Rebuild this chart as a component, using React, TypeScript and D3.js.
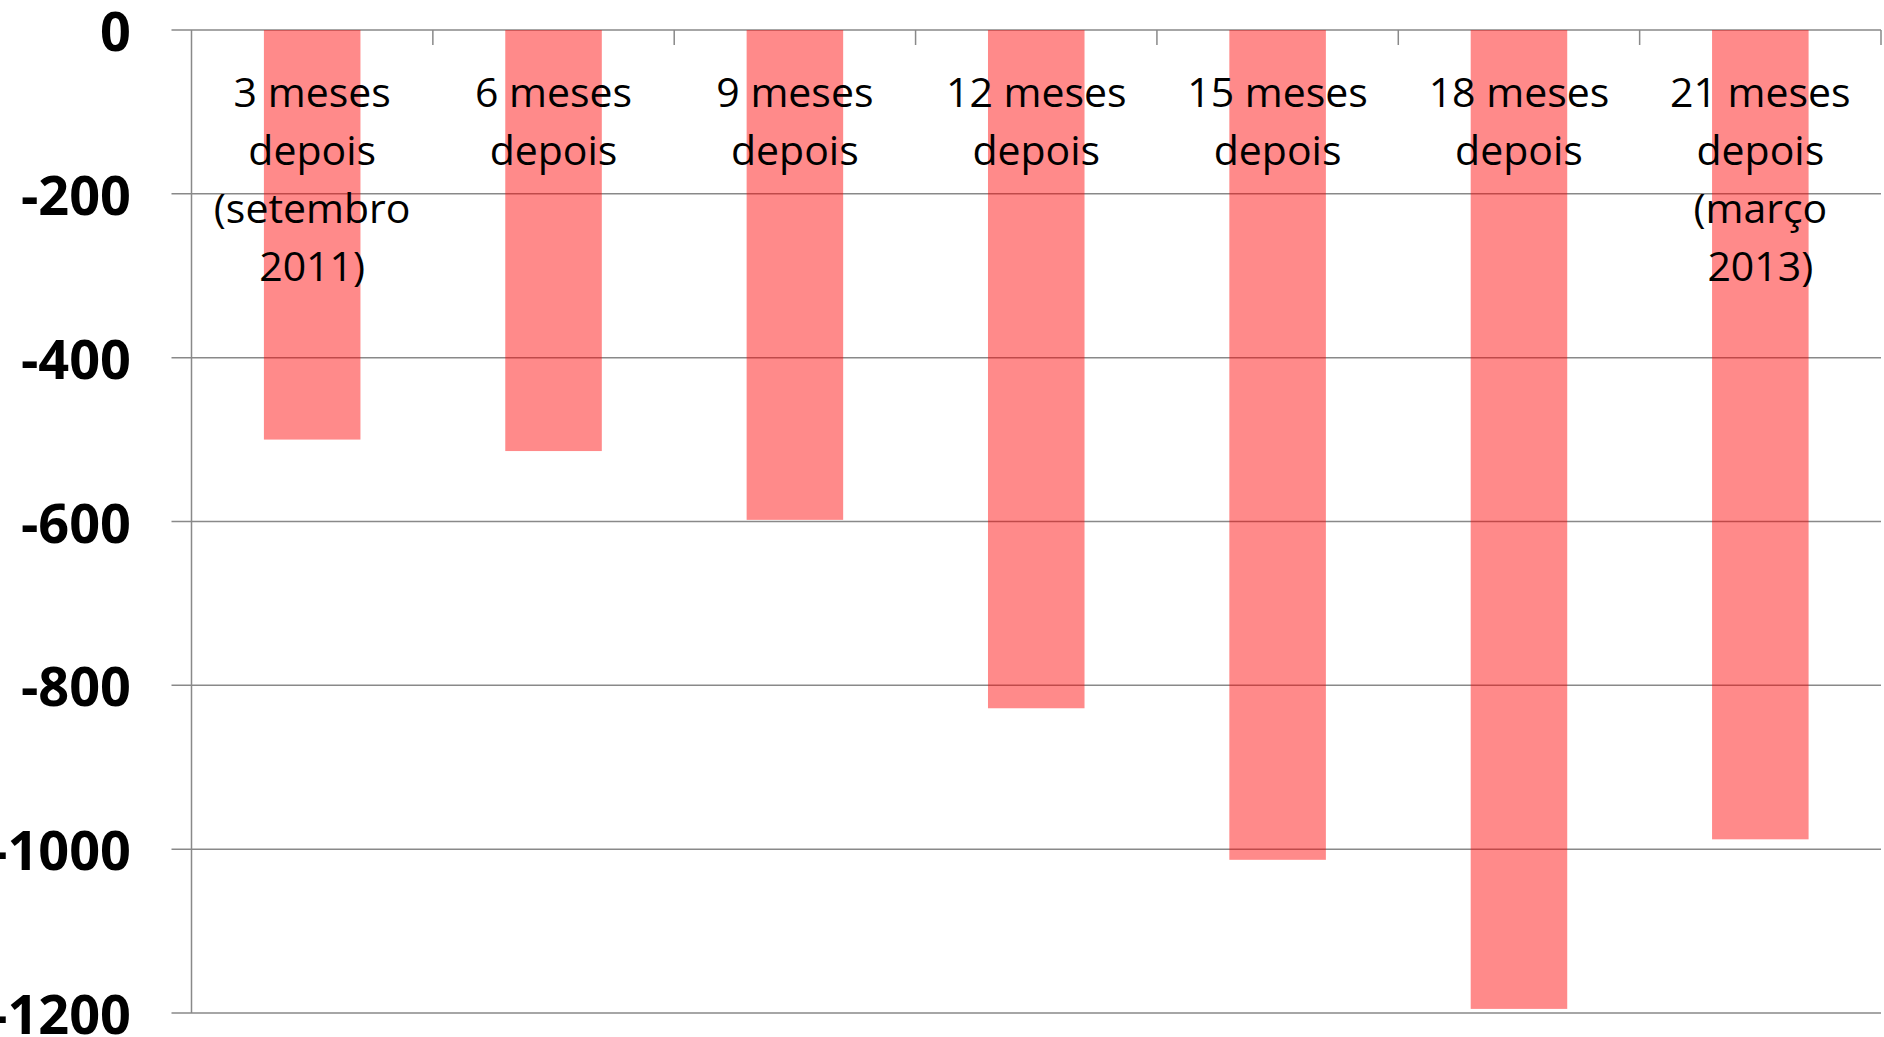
import React from "react";
import * as d3 from "d3";

// categories (multi-line labels) and values
const categories = ["3m", "6m", "9m", "12m", "15m", "18m", "21m"];
const labelLines = [
  ["3 meses", "depois", "(setembro", "2011)"],
  ["6 meses", "depois"],
  ["9 meses", "depois"],
  ["12 meses", "depois"],
  ["15 meses", "depois"],
  ["18 meses", "depois"],
  ["21 meses", "depois", "(março", "2013)"],
];
const values = [-500, -514, -598, -828, -1013, -1195, -988];
const yTicks = [0, -200, -400, -600, -800, -1000, -1200];

const W = 1884;
const H = 1037;
const margin = { top: 30, right: 3, bottom: 24, left: 191.5 };

export default function App() {
  const x = d3
    .scaleBand<string>()
    .domain(categories)
    .range([margin.left, W - margin.right])
    .paddingInner(0.6)
    .paddingOuter(0.3);

  const y = d3
    .scaleLinear()
    .domain([-1200, 0])
    .range([H - margin.bottom, margin.top]);

  const step = x.step();
  const grid = "#898989";

  return (
    <svg
      width={W}
      height={H}
      style={{ position: "absolute", left: 0, top: 0, background: "#fff" }}
    >
      {/* horizontal gridlines + outside ticks */}
      {yTicks.map((t) => (
        <line
          key={"g" + t}
          x1={margin.left - 20}
          x2={W - margin.right}
          y1={y(t)}
          y2={y(t)}
          stroke={grid}
          strokeWidth={1.5}
        />
      ))}
      {/* value axis */}
      <line
        x1={margin.left}
        x2={margin.left}
        y1={y(0)}
        y2={y(-1200)}
        stroke={grid}
        strokeWidth={1.5}
      />
      {/* category ticks on the zero line */}
      {categories.map((c) => (
        <line
          key={"t" + c}
          x1={(x(c) as number) - step * 0.3 + step}
          x2={(x(c) as number) - step * 0.3 + step}
          y1={y(0)}
          y2={y(0) + 15}
          stroke={grid}
          strokeWidth={1.5}
        />
      ))}
      {/* bars */}
      {categories.map((c, i) => (
        <rect
          key={"b" + c}
          x={x(c)}
          y={y(0)}
          width={x.bandwidth()}
          height={y(values[i]) - y(0)}
          fill="rgb(255,0,0)"
          fillOpacity={0.46}
        />
      ))}
      {/* y labels */}
      {yTicks.map((t) => (
        <text
          key={"y" + t}
          x={131}
          y={y(t)}
          textAnchor="end"
          dominantBaseline="central"
          fontFamily="'Open Sans', sans-serif"
          fontWeight={700}
          fontSize={54}
          fill="#000"
        >
          {t}
        </text>
      ))}
      {/* category labels */}
      {categories.map((c, i) => (
        <text
          key={"l" + c}
          textAnchor="middle"
          fontFamily="'Open Sans', sans-serif"
          fontSize={41}
          fill="#000"
        >
          {labelLines[i].map((ln, j) => (
            <tspan
              key={j}
              x={(x(c) as number) + x.bandwidth() / 2}
              y={107 + j * 58}
            >
              {ln}
            </tspan>
          ))}
        </text>
      ))}
    </svg>
  );
}
